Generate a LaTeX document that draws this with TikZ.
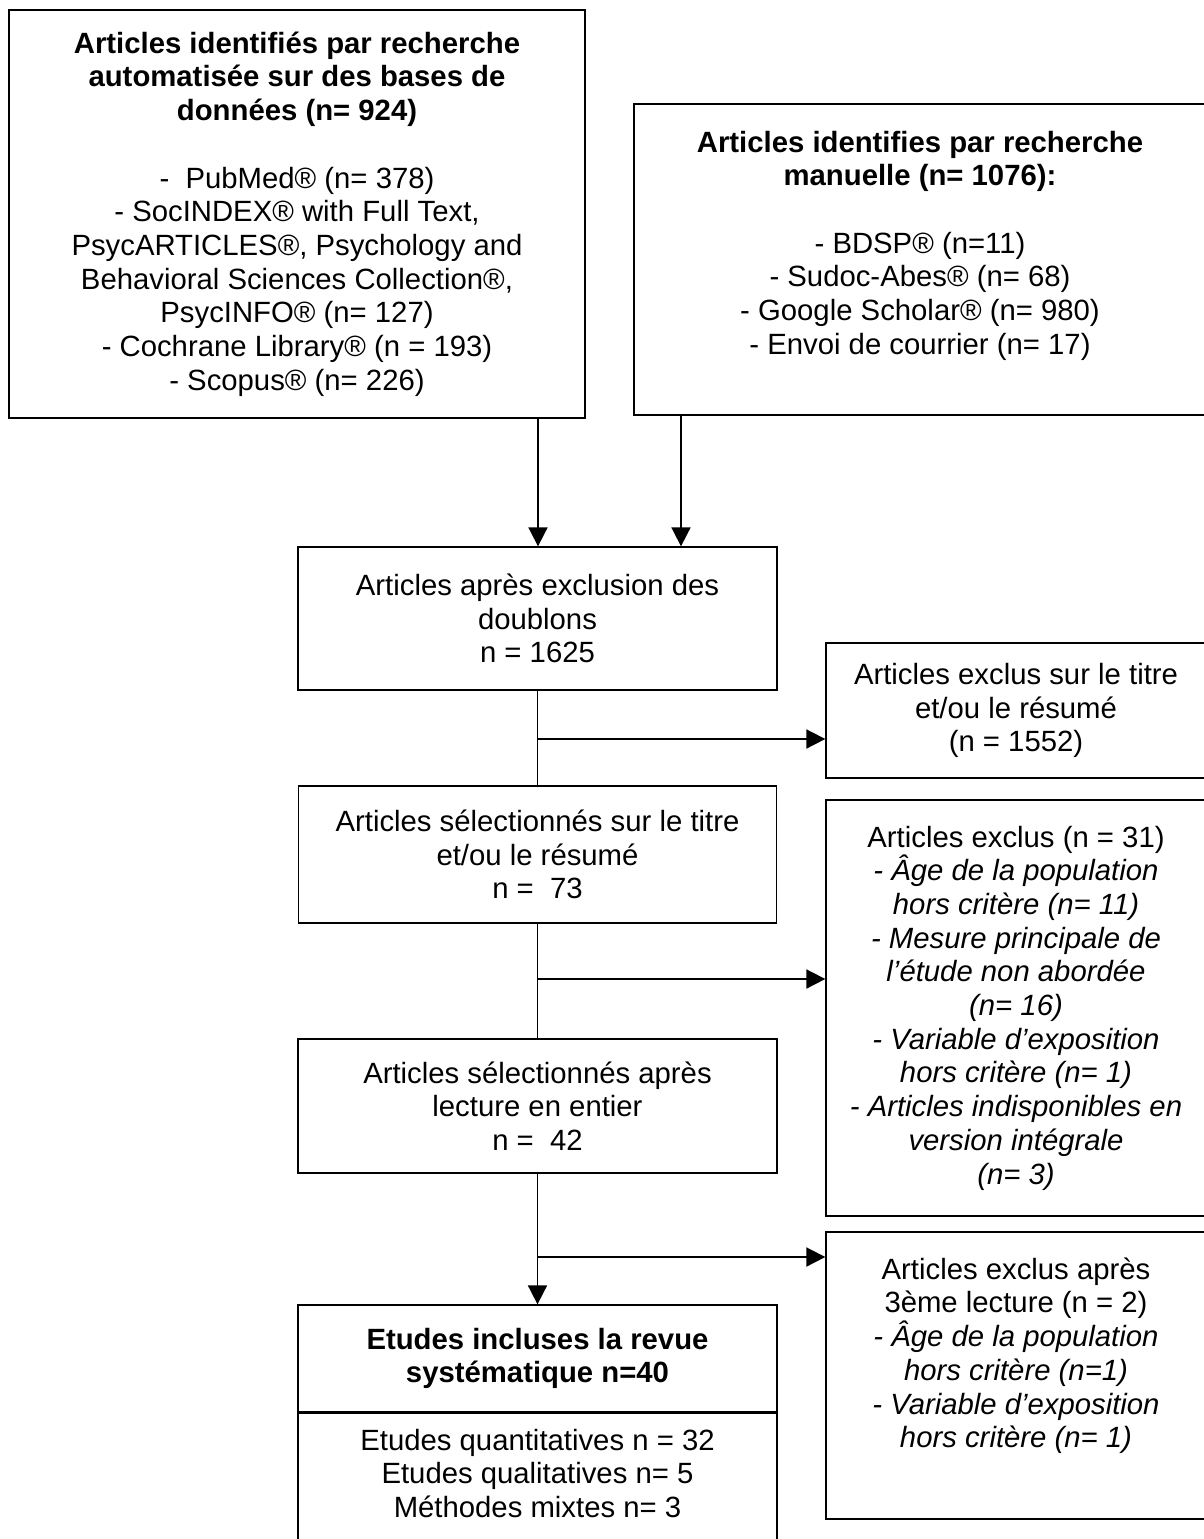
\documentclass[tikz,border=0pt]{standalone}
\usepackage{fontspec}
\setmainfont{Liberation Sans}
\usetikzlibrary{arrows.meta}
\begin{document}
\begin{tikzpicture}[x=1pt,y=-1pt,
  box/.style={draw=black,line width=1.3pt,align=center,inner sep=0pt,
    font=\fontsize{29.3}{33.7}\selectfont},
  conn/.style={line width=1.8pt,draw=black},
  arr/.style={conn,-{Triangle[length=19pt,width=19pt]}}]
\useasboundingbox (0,0) rectangle (1204,1539);
\fill[white] (0,0) rectangle (1204,1539);
\clip (0,0) rectangle (1204,1539);

% top boxes
\node[box,minimum width=576pt,minimum height=408pt] (b1) at (297,214)
 {\textbf{Articles identifiés par recherche}\\
  \textbf{automatisée sur des bases de}\\
  \textbf{données (n= 924)}\\ ~\\
  - \ PubMed® (n= 378)\\
  - SocINDEX® with Full Text,\\
  PsycARTICLES®, Psychology and\\
  Behavioral Sciences Collection®,\\
  PsycINFO® (n= 127)\\
  - Cochrane Library® (n = 193)\\
  - Scopus® (n= 226)};

\node[box,minimum width=572pt,minimum height=311pt] (b2) at (920,259.5)
 {\textbf{Articles identifies par recherche}\\
  \textbf{manuelle (n= 1076):}\\ ~\\
  - BDSP® (n=11)\\
  - Sudoc-Abes® (n= 68)\\
  - Google Scholar® (n= 980)\\
  - Envoi de courrier (n= 17)\\ ~};

% main column
\node[box,minimum width=479pt,minimum height=143pt] (b3) at (537.5,618.5)
 {Articles après exclusion des\\ doublons\\ n = 1625};

\node[box,minimum width=478pt,minimum height=137pt] (b5) at (537.5,854.5)
 {Articles sélectionnés sur le titre\\ et/ou le résumé\\ n = \ 73};

\node[box,minimum width=479pt,minimum height=134pt] (b7) at (537.5,1106)
 {Articles sélectionnés après\\ lecture en entier\\ n = \ 42};

\node[box,minimum width=479pt,minimum height=107pt] (b8) at (537.5,1358.5)
 {\textbf{Etudes incluses la revue}\\ \textbf{systématique n=40}};

\node[box,minimum width=479pt,minimum height=140pt,anchor=north] (b8b) at (b8.south)
 {Etudes quantitatives n = 32\\ Etudes qualitatives n= 5\\ Méthodes mixtes n= 3\\[-13.7pt] ~};

% right column
\node[box,minimum width=380pt,minimum height=135pt] (b4) at (1016,710.5)
 {Articles exclus sur le titre\\ et/ou le résumé\\ (n = 1552)};

\node[box,minimum width=380pt,minimum height=416pt] (b6) at (1016,1008)
 {Articles exclus (n = 31)\\
  \textit{- Âge de la population}\\
  \textit{hors critère (n= 11)}\\
  \textit{- Mesure principale de}\\
  \textit{l’étude non abordée}\\
  \textit{(n= 16)}\\
  \textit{- Variable d’exposition}\\
  \textit{hors critère (n= 1)}\\
  \textit{- Articles indisponibles en}\\
  \textit{version intégrale}\\
  \textit{(n= 3)}};

\node[box,minimum width=380pt,minimum height=287pt] (b9) at (1016,1375.5)
 {Articles exclus après\\
  3ème lecture (n = 2)\\
  \textit{- Âge de la population}\\
  \textit{hors critère (n=1)}\\
  \textit{- Variable d’exposition}\\
  \textit{hors critère (n= 1)}\\[12pt] ~};

% connectors
\coordinate (c1) at (538,0);
\coordinate (c2) at (681,0);
\draw[arr] (b1.south -| c1) -- (b3.north -| c1);
\draw[arr] (b2.south -| c2) -- (b3.north -| c2);

\draw[conn] (b3.south) -- (b5.north);
\coordinate (k1) at (537.5,739);
\draw[arr] (k1) -- (k1 -| b4.west);

\draw[conn] (b5.south) -- (b7.north);
\coordinate (k2) at (537.5,979);
\draw[arr] (k2) -- (k2 -| b6.west);

\draw[arr] (b7.south) -- (b8.north);
\coordinate (k3) at (537.5,1257);
\draw[arr] (k3) -- (k3 -| b9.west);
\end{tikzpicture}
\end{document}
